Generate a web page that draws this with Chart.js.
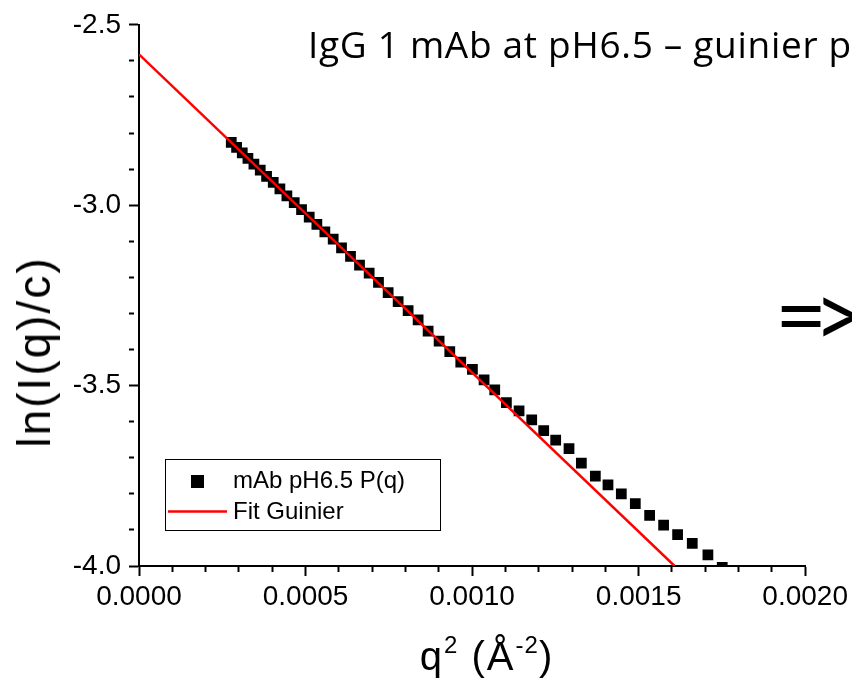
<!DOCTYPE html>
<html>
<head>
<meta charset="utf-8">
<script src="https://cdn.jsdelivr.net/npm/chart.js@4.4.1/dist/chart.umd.min.js"></script>
<style>
  html, body { margin: 0; padding: 0; background: #fff; }
  body { width: 852px; height: 683px; overflow: hidden; position: relative; }
  #chart { position: absolute; left: 0; top: 0; }
  .slide-title { position: absolute; left: 308px; top: 25px; font-family: "Open Sans", Lato, sans-serif; font-size: 37px; letter-spacing: 0.7px; line-height: 1; white-space: nowrap; color: #000; }
  .arrow { position: absolute; left: 775px; top: 267px; font-family: Lato, "Open Sans", sans-serif; font-size: 90px; letter-spacing: -14px; line-height: 1; white-space: nowrap; color: #000; }
  .ytitle { position: absolute; left: 34px; top: 352px; transform: translate(-50%, -50%) rotate(-90deg); font-family: "Liberation Sans", Arial, sans-serif; font-size: 46px; letter-spacing: 2px; white-space: nowrap; color: #000; }
  .xtitle { position: absolute; left: 487px; top: 655px; transform: translate(-50%, -50%); font-family: "Liberation Sans", Arial, sans-serif; font-size: 40px; letter-spacing: 2px; white-space: nowrap; color: #000; }
  .xtitle sup { font-size: 0.6em; vertical-align: 0.7em; letter-spacing: 1px; }
</style>
</head>
<body>
<canvas id="chart" width="852" height="683" style="width:852px;height:683px"></canvas>
<div class="slide-title">IgG 1 mAb at pH6.5 – guinier plot</div>
<div class="arrow">=&gt;</div>
<div class="ytitle">ln(I(q)/c)</div>
<div class="xtitle">q<sup>2</sup> (Å<sup>-2</sup>)</div>
<script>
// measured points, q^2 (1/A^2) and ln(I/c)
const q2 = [0.000277, 0.000293, 0.000310, 0.000327, 0.000345, 0.000364, 0.000383, 0.000403, 0.000423, 0.000444,
            0.000466, 0.000488, 0.000511, 0.000534, 0.000558, 0.000583, 0.000608, 0.000635, 0.000662, 0.000691,
            0.000719, 0.000748, 0.000778, 0.000808, 0.000838, 0.000868, 0.000901, 0.000933, 0.000966, 0.001001,
            0.001036, 0.001068, 0.001103, 0.001141, 0.001179, 0.001215, 0.001251, 0.001291, 0.001328, 0.001370,
            0.001408, 0.001448, 0.001490, 0.001533, 0.001575, 0.001617, 0.001661, 0.001708, 0.001751];
const lnI = [-2.826, -2.840, -2.855, -2.870, -2.886, -2.903, -2.920, -2.937, -2.955, -2.974,
             -2.993, -3.012, -3.033, -3.053, -3.074, -3.094, -3.118, -3.142, -3.166, -3.188,
             -3.214, -3.242, -3.267, -3.292, -3.318, -3.349, -3.377, -3.406, -3.435, -3.455,
             -3.484, -3.512, -3.547, -3.570, -3.595, -3.625, -3.651, -3.675, -3.715, -3.751,
             -3.775, -3.800, -3.827, -3.860, -3.887, -3.913, -3.937, -3.969, -4.004];

// guinier fit line end points
const fitX = [0, 0.001608];
const fitY = [-2.582, -4.0];

const seriesLabels = ['mAb pH6.5 P(q)', 'Fit Guinier'];

const fontFamily = '"Liberation Sans", Arial, sans-serif';

function isMultiple(v, step) {
    return Math.abs(Math.round(v / step) * step - v) < step * 1e-6;
}

// legend box drawn inside the plot, lower left
const innerLegend = {
    id: 'innerLegend',
    afterDatasetsDraw(chart) {
        const ctx = chart.ctx;
        const pts = chart.data.datasets[1];
        const fit = chart.data.datasets[0];
        ctx.save();
        ctx.fillStyle = '#fff';
        ctx.fillRect(165, 459, 276, 72);
        ctx.strokeStyle = '#000';
        ctx.lineWidth = 1;
        ctx.strokeRect(165.5, 459.5, 275, 71);

        ctx.fillStyle = pts.backgroundColor;
        ctx.fillRect(191, 475, 13, 13);

        ctx.strokeStyle = fit.borderColor;
        ctx.lineWidth = fit.borderWidth;
        ctx.beginPath();
        ctx.moveTo(168, 511.5);
        ctx.lineTo(227, 511.5);
        ctx.stroke();

        ctx.fillStyle = '#000';
        ctx.font = '24px ' + fontFamily;
        ctx.textBaseline = 'middle';
        ctx.textAlign = 'left';
        ctx.fillText(pts.label, 233, 481);
        ctx.fillText(fit.label, 233, 512);
        ctx.restore();
    }
};

new Chart(document.getElementById('chart'), {
    type: 'scatter',
    data: {
        datasets: [
            {
                label: seriesLabels[1],
                data: fitX.map((x, i) => ({ x: x, y: fitY[i] })),
                showLine: true,
                borderColor: '#ff0000',
                backgroundColor: '#ff0000',
                borderWidth: 2.5,
                pointRadius: 0,
                order: 0
            },
            {
                label: seriesLabels[0],
                data: q2.map((x, i) => ({ x: x, y: lnI[i] })),
                pointStyle: 'rect',
                pointRadius: 7.6,
                pointHoverRadius: 7.6,
                backgroundColor: '#000',
                borderWidth: 0,
                clip: 0,
                order: 1
            }
        ]
    },
    options: {
        responsive: false,
        animation: false,
        devicePixelRatio: 1,
        layout: { padding: { left: 0, top: 22, right: 46, bottom: 0 } },
        plugins: {
            legend: { display: false },
            tooltip: { enabled: false }
        },
        scales: {
            x: {
                type: 'linear',
                position: 'bottom',
                min: 0,
                max: 0.002,
                afterFit: scale => { scale.height = 117; },
                ticks: {
                    stepSize: 0.0001,
                    autoSkip: false,
                    maxRotation: 0,
                    padding: 4,
                    color: '#000',
                    font: { family: fontFamily, size: 28 },
                    callback: v => isMultiple(v, 0.0005) ? v.toFixed(4) : ''
                },
                grid: {
                    drawOnChartArea: false,
                    drawTicks: true,
                    tickLength: 10,
                    tickWidth: 2,
                    tickColor: '#000',
                    tickBorderDash: c => isMultiple(c.tick.value, 0.0005) ? [] : [5, 40]
                },
                border: { display: true, color: '#000', width: 2 }
            },
            y: {
                type: 'linear',
                position: 'left',
                min: -4.0,
                max: -2.5,
                afterFit: scale => { scale.width = 139; },
                ticks: {
                    stepSize: 0.1,
                    autoSkip: false,
                    padding: 8,
                    color: '#000',
                    font: { family: fontFamily, size: 28 },
                    callback: v => isMultiple(v, 0.5) ? v.toFixed(1) : ''
                },
                grid: {
                    drawOnChartArea: false,
                    drawTicks: true,
                    tickLength: 10,
                    tickWidth: 2,
                    tickColor: '#000',
                    tickBorderDash: c => isMultiple(c.tick.value, 0.5) ? [] : [5, 40]
                },
                border: { display: true, color: '#000', width: 2 }
            }
        }
    },
    plugins: [innerLegend]
});
</script>
</body>
</html>
